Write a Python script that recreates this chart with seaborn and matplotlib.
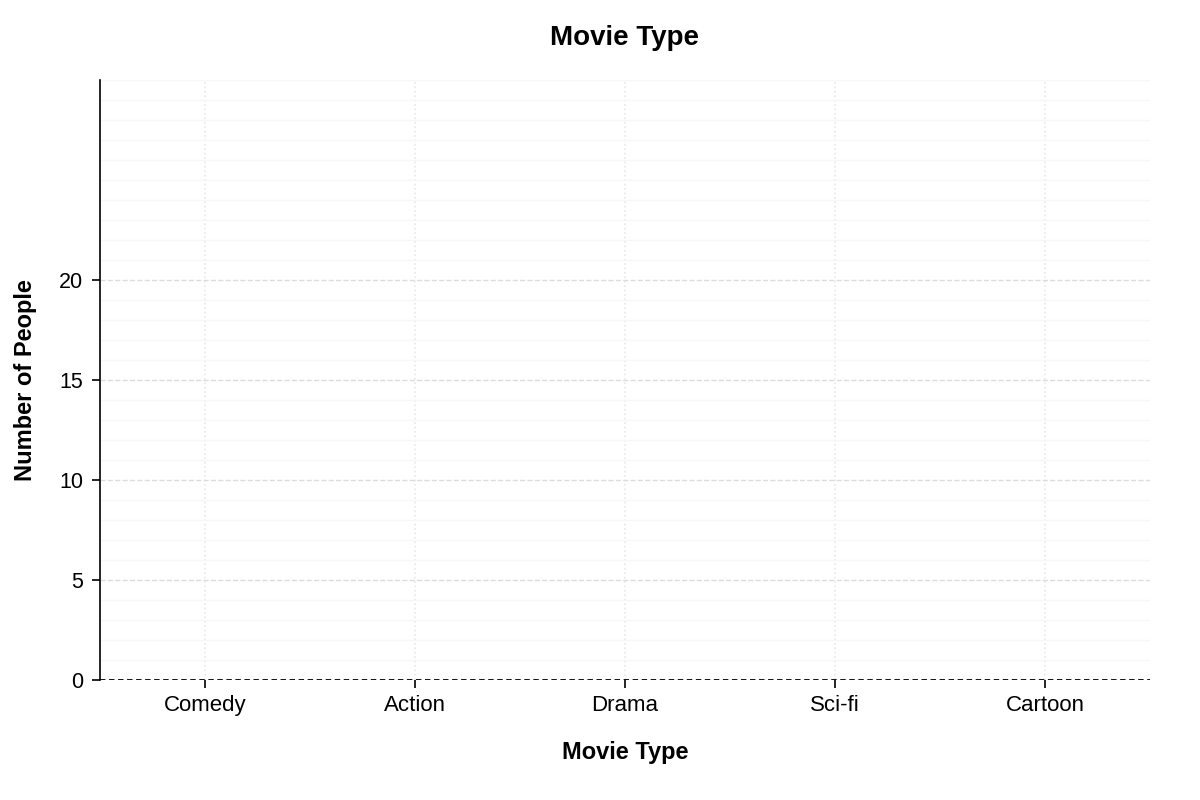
import matplotlib
matplotlib.use("Agg")
import matplotlib.pyplot as plt
import seaborn as sns
import pandas as pd
from matplotlib.ticker import MultipleLocator

# data (all bars are empty / zero)
movie_types = ["Comedy", "Action", "Drama", "Sci-fi", "Cartoon"]
people = [0, 0, 0, 0, 0]
y_ticks = [0, 5, 10, 15, 20]

sns.set_style("white")
plt.rcParams['font.family'] = ['Liberation Sans', 'DejaVu Sans']
plt.rcParams['text.color'] = 'black'
plt.rcParams['axes.labelcolor'] = 'black'

df = pd.DataFrame({"Movie Type": movie_types, "Number of People": people})

fig, ax = plt.subplots(figsize=(12, 8), dpi=100)
fig.subplots_adjust(left=100/1200, right=1150/1200, top=1-80/800, bottom=1-680/800)

sns.barplot(data=df, x="Movie Type", y="Number of People", color="#4c72b0", ax=ax)

ax.set_xlim(-0.5, len(movie_types) - 0.5)
ax.set_ylim(0, 30)
ax.set_yticks(y_ticks)
ax.yaxis.set_minor_locator(MultipleLocator(1))

# grid lines
ax.grid(axis="y", which="major", color="#dcdcdc", linestyle="--", linewidth=1)
ax.grid(axis="y", which="minor", color="#f7f7f7", linestyle="-", linewidth=1)
ax.grid(axis="x", which="major", color="#e8e8e8", linestyle=":", linewidth=1.2)
ax.set_axisbelow(True)

ax.axhline(0, color="black", linestyle=(0, (3, 2)), linewidth=1.3, zorder=5)

for side in ["top", "right", "bottom"]:
    ax.spines[side].set_visible(False)
ax.spines["left"].set_color("black")
ax.spines["left"].set_linewidth(1.2)

ax.tick_params(axis="both", which="major", labelsize=16, colors="black",
               length=6, width=1.2, bottom=True, left=True, pad=5)
ax.tick_params(axis="y", which="major", labelsize=15.5, pad=6)
ax.tick_params(axis="y", which="minor", length=0)

ax.set_title("Movie Type", fontsize=20, fontweight="bold", pad=25)
ax.set_xlabel("Movie Type", fontsize=17, fontweight="bold", labelpad=18)
ax.set_ylabel("Number of People", fontsize=17, fontweight="bold", labelpad=16)

fig.savefig("out.png", dpi=100)
